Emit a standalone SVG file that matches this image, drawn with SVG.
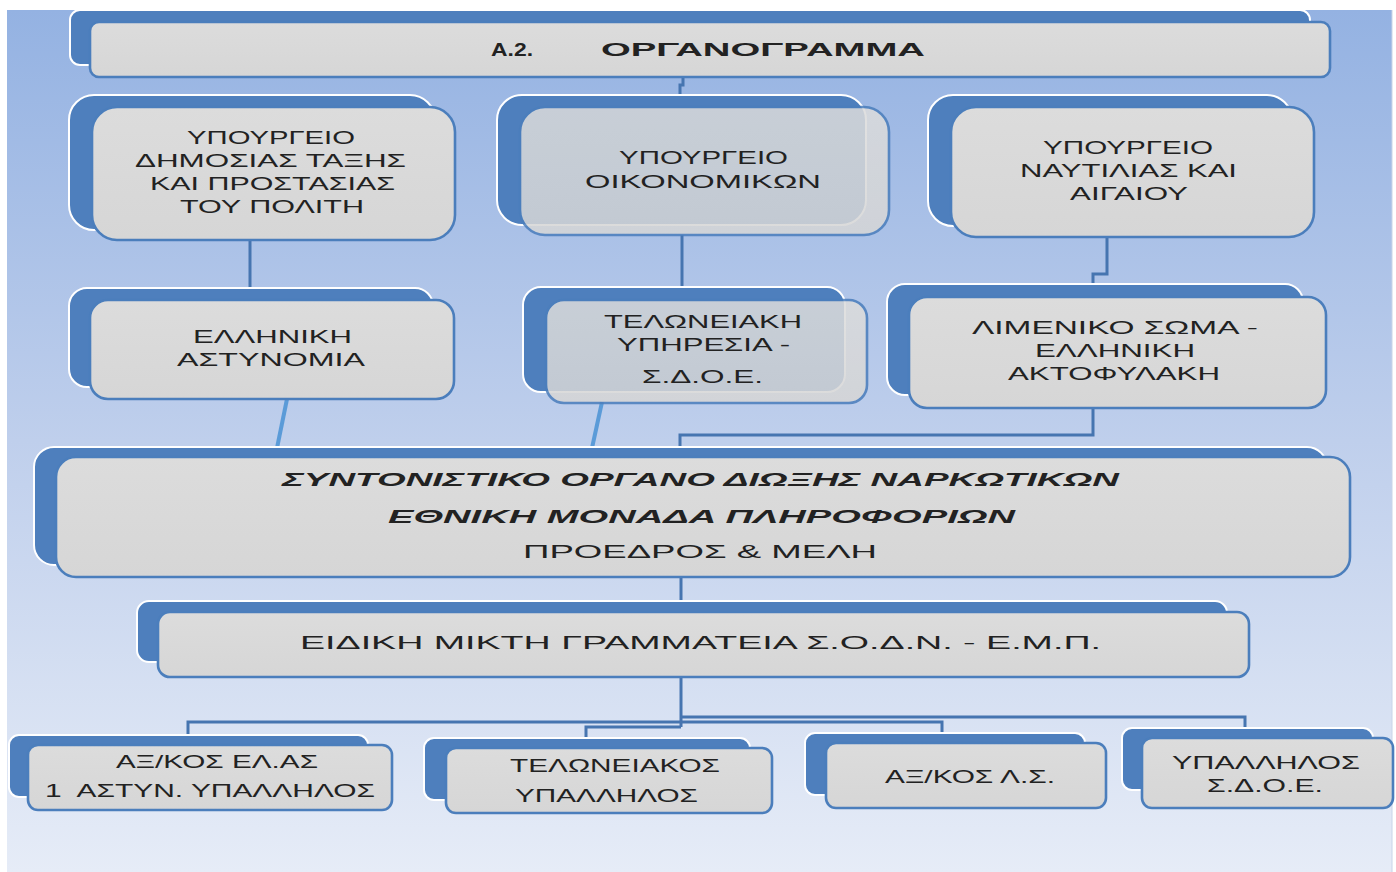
<svg xmlns="http://www.w3.org/2000/svg" width="1396" height="872" viewBox="0 0 1396 872">
<defs>
<linearGradient id="bg" x1="0" y1="0" x2="0" y2="1">
<stop offset="0" stop-color="#94b2e2"/>
<stop offset="0.5" stop-color="#bfcfec"/>
<stop offset="1" stop-color="#e6ecf7"/>
</linearGradient>
<linearGradient id="box" x1="0" y1="0" x2="0" y2="1">
<stop offset="0" stop-color="#dcdcdc"/>
<stop offset="1" stop-color="#d6d6d6"/>
</linearGradient>
<style>
.sh{fill:#4e7fbd;stroke:#ffffff;stroke-width:2}
.fr{fill:url(#box);stroke:#4b7ebc;stroke-width:2.6}
.tr{opacity:0.86}
.t{font-family:"Liberation Sans","Open Sans",sans-serif;font-size:18.5px;fill:#222222}
.b{font-weight:bold}
.bi{font-weight:bold;font-style:italic}
.c{fill:none;stroke:#4675b0;stroke-width:3}
.s{fill:none;stroke:#5b9bd8;stroke-width:4}
</style>
</defs>
<rect x="0" y="0" width="1396" height="872" fill="#ffffff"/>
<rect x="7" y="10" width="1385" height="862" fill="url(#bg)"/>
<line x1="1392" y1="10" x2="1392" y2="872" stroke="#c8d4e8" stroke-width="1"/>

<g id="connectors">
<path class="c" d="M683 77 V85 H680 V96"/>
<path class="c" d="M250 240 V289"/>
<path class="c" d="M682 235 V288"/>
<path class="c" d="M1107 237 V274 H1093 V285"/>
<path class="s" d="M287 399 L277 448"/>
<path class="s" d="M602 402 L592 448"/>
<path class="c" d="M1093 408 V435 H680 V448"/>
<path class="c" d="M681 577 V602"/>
<path class="c" d="M681 677 V727"/>
<path class="c" d="M681 717 H1245 V729"/>
<path class="c" d="M681 722 H188 V736"/>
<path class="c" d="M681 722 H942 V734"/>
<path class="c" d="M681 727 H586 V739"/>
</g>

<g id="n-title">
<rect class="sh" x="70" y="10" width="1240" height="55" rx="10"/>
<rect class="fr" x="90" y="22" width="1240" height="55" rx="9"/>
<text class="t b" y="56" font-size="22"><tspan x="491" textLength="42" lengthAdjust="spacingAndGlyphs">Α.2.</tspan><tspan x="601" textLength="324" lengthAdjust="spacingAndGlyphs">ΟΡΓΑΝΟΓΡΑΜΜΑ</tspan></text>
</g>

<g id="n-ypdtpp">
<rect class="sh" x="69" y="95" width="366" height="135" rx="25"/>
<rect class="fr" x="92" y="107" width="363" height="133" rx="25"/>
<text class="t" x="187" y="144" textLength="168" lengthAdjust="spacingAndGlyphs">ΥΠΟΥΡΓΕΙΟ</text>
<text class="t" x="135" y="167" textLength="271" lengthAdjust="spacingAndGlyphs">ΔΗΜΟΣΙΑΣ ΤΑΞΗΣ</text>
<text class="t" x="150" y="190" textLength="245" lengthAdjust="spacingAndGlyphs">ΚΑΙ ΠΡΟΣΤΑΣΙΑΣ</text>
<text class="t" x="180" y="213" textLength="184" lengthAdjust="spacingAndGlyphs">ΤΟΥ ΠΟΛΙΤΗ</text>
</g>

<g id="n-yp-oik">
<rect class="sh" x="497" y="95" width="369" height="130" rx="25"/>
<rect class="fr tr" x="520" y="107" width="369" height="128" rx="25"/>
<text class="t" x="619" y="164" textLength="169" lengthAdjust="spacingAndGlyphs">ΥΠΟΥΡΓΕΙΟ</text>
<text class="t" x="585" y="188" textLength="236" lengthAdjust="spacingAndGlyphs">ΟΙΚΟΝΟΜΙΚΩΝ</text>
</g>

<g id="n-yp-naut">
<rect class="sh" x="928" y="95" width="364" height="131" rx="25"/>
<rect class="fr" x="951" y="107" width="363" height="130" rx="25"/>
<text class="t" x="1043" y="154" textLength="170" lengthAdjust="spacingAndGlyphs">ΥΠΟΥΡΓΕΙΟ</text>
<text class="t" x="1020" y="177" textLength="217" lengthAdjust="spacingAndGlyphs">ΝΑΥΤΙΛΙΑΣ ΚΑΙ</text>
<text class="t" x="1070" y="200" textLength="118" lengthAdjust="spacingAndGlyphs">ΑΙΓΑΙΟΥ</text>
</g>

<g id="n-elas">
<rect class="sh" x="69" y="288" width="364" height="99" rx="18"/>
<rect class="fr" x="90" y="300" width="364" height="99" rx="18"/>
<text class="t" x="193" y="343" textLength="159" lengthAdjust="spacingAndGlyphs">ΕΛΛΗΝΙΚΗ</text>
<text class="t" x="177" y="366" textLength="188" lengthAdjust="spacingAndGlyphs">ΑΣΤΥΝΟΜΙΑ</text>
</g>

<g id="n-sdoe">
<rect class="sh" x="523" y="287" width="322" height="105" rx="18"/>
<rect class="fr tr" x="546" y="300" width="321" height="103" rx="18"/>
<text class="t" x="604" y="328" textLength="198" lengthAdjust="spacingAndGlyphs">ΤΕΛΩΝΕΙΑΚΗ</text>
<text class="t" x="617" y="351" textLength="173" lengthAdjust="spacingAndGlyphs">ΥΠΗΡΕΣΙΑ -</text>
<text class="t" x="642" y="383" textLength="121" lengthAdjust="spacingAndGlyphs">Σ.Δ.Ο.Ε.</text>
</g>

<g id="n-ls">
<rect class="sh" x="887" y="284" width="416" height="111" rx="18"/>
<rect class="fr" x="909" y="297" width="417" height="111" rx="18"/>
<text class="t" x="972" y="334" textLength="286" lengthAdjust="spacingAndGlyphs">ΛΙΜΕΝΙΚΟ ΣΩΜΑ -</text>
<text class="t" x="1035" y="357" textLength="160" lengthAdjust="spacingAndGlyphs">ΕΛΛΗΝΙΚΗ</text>
<text class="t" x="1008" y="380" textLength="212" lengthAdjust="spacingAndGlyphs">ΑΚΤΟΦΥΛΑΚΗ</text>
</g>

<g id="n-sodn">
<rect class="sh" x="34" y="447" width="1293" height="118" rx="20"/>
<rect class="fr" x="56" y="457" width="1294" height="120" rx="20"/>
<text class="t bi" x="282" y="486" font-size="21" textLength="837" lengthAdjust="spacingAndGlyphs">ΣΥΝΤΟΝΙΣΤΙΚΟ ΟΡΓΑΝΟ ΔΙΩΞΗΣ ΝΑΡΚΩΤΙΚΩΝ</text>
<text class="t bi" x="388" y="523" font-size="21" textLength="627" lengthAdjust="spacingAndGlyphs">ΕΘΝΙΚΗ ΜΟΝΑΔΑ ΠΛΗΡΟΦΟΡΙΩΝ</text>
<text class="t" x="523" y="558" font-size="20" textLength="354" lengthAdjust="spacingAndGlyphs">ΠΡΟΕΔΡΟΣ &amp; ΜΕΛΗ</text>
</g>

<g id="n-emg">
<rect class="sh" x="137" y="601" width="1090" height="61" rx="12"/>
<rect class="fr" x="158" y="612" width="1091" height="65" rx="12"/>
<text class="t" x="300" y="649" font-size="20" textLength="801" lengthAdjust="spacingAndGlyphs">ΕΙΔΙΚΗ ΜΙΚΤΗ ΓΡΑΜΜΑΤΕΙΑ Σ.Ο.Δ.Ν. - Ε.Μ.Π.</text>
</g>

<g id="n-axkos-elas">
<rect class="sh" x="9" y="735" width="359" height="62" rx="10"/>
<rect class="fr" x="28" y="745" width="364" height="65" rx="10"/>
<text class="t" x="116" y="768" textLength="202" lengthAdjust="spacingAndGlyphs">ΑΞ/ΚΟΣ ΕΛ.ΑΣ</text>
<text class="t" x="45" y="797" textLength="330" lengthAdjust="spacingAndGlyphs" xml:space="preserve">1  ΑΣΤΥΝ. ΥΠΑΛΛΗΛΟΣ</text>
</g>

<g id="n-telon-yp">
<rect class="sh" x="424" y="738" width="326" height="62" rx="10"/>
<rect class="fr" x="446" y="748" width="326" height="65" rx="10"/>
<text class="t" x="510" y="772" textLength="210" lengthAdjust="spacingAndGlyphs">ΤΕΛΩΝΕΙΑΚΟΣ</text>
<text class="t" x="515" y="802" textLength="183" lengthAdjust="spacingAndGlyphs">ΥΠΑΛΛΗΛΟΣ</text>
</g>

<g id="n-axkos-ls">
<rect class="sh" x="805" y="733" width="280" height="62" rx="10"/>
<rect class="fr" x="826" y="743" width="280" height="65" rx="10"/>
<text class="t" x="885" y="783" textLength="170" lengthAdjust="spacingAndGlyphs">ΑΞ/ΚΟΣ Λ.Σ.</text>
</g>

<g id="n-yp-sdoe">
<rect class="sh" x="1122" y="728" width="251" height="62" rx="10"/>
<rect class="fr" x="1142" y="738" width="251" height="70" rx="10"/>
<text class="t" x="1172" y="769" textLength="188" lengthAdjust="spacingAndGlyphs">ΥΠΑΛΛΗΛΟΣ</text>
<text class="t" x="1207" y="792" textLength="116" lengthAdjust="spacingAndGlyphs">Σ.Δ.Ο.Ε.</text>
</g>
</svg>
